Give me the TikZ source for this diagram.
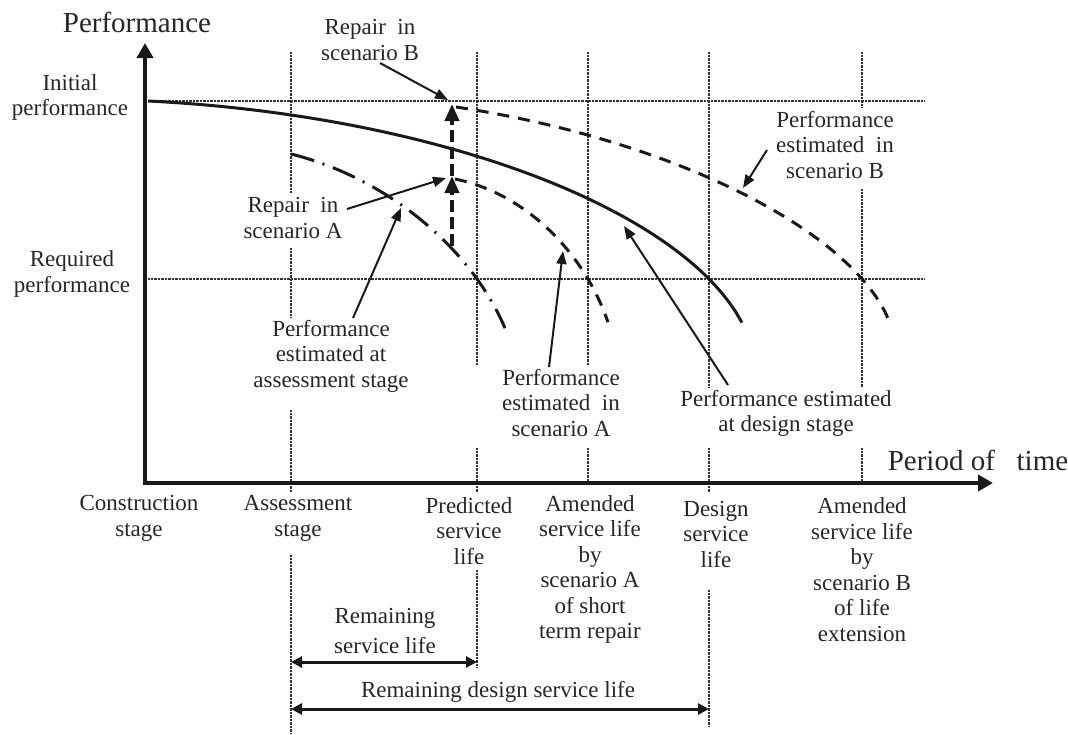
\documentclass[tikz,border=0pt]{standalone}
\usepackage{fontspec}
\setmainfont{Liberation Serif}
\usetikzlibrary{arrows.meta}
\begin{document}
\begin{tikzpicture}[x=1pt,y=-1pt,
  lbl/.style={align=center, inner sep=0pt, font=\fontsize{23}{25.5}\selectfont, text=black!85},
  big/.style={inner sep=0pt, font=\fontsize{29}{32}\selectfont, text=black!85},
  gridline/.style={line width=1.4pt, dash pattern=on 0.7pt off 0.7pt, black!80},
  axisline/.style={line width=4pt, black!90, -{Triangle[length=15pt,width=16pt]}},
  curve/.style={line width=3pt, black!90},
  ptr/.style={line width=2pt, black!90, -{Triangle[length=13pt,width=10pt]}},
  repair/.style={line width=4pt, black!90, dash pattern=on 12pt off 5pt, -{Triangle[length=17pt,width=14pt]}},
  span/.style={line width=3pt, black!90, {Triangle[length=11pt,width=11pt]}-{Triangle[length=11pt,width=11pt]}}
]
\useasboundingbox (0,0) rectangle (1068,734);

% grid lines
\draw[gridline] (148,101) -- (924,101);
\draw[gridline] (148,279) -- (924,279);
\draw[gridline] (291,52) -- (291,193) (291,248) -- (291,318) (291,410) -- (291,492) (291,555) -- (291,733);
\draw[gridline] (477,52) -- (477,365) (477,448) -- (477,492) (477,570) -- (477,668);
\draw[gridline] (588,52) -- (588,365) (588,448) -- (588,483);
\draw[gridline] (709,52) -- (709,387) (709,448) -- (709,492) (709,590) -- (709,727);
\draw[gridline] (862,52) -- (862,107) (862,189) -- (862,387) (862,448) -- (862,483);

% axes
\coordinate (O) at (145,483);
\coordinate (ytip) at (145,43);
\coordinate (xtip) at (993,483);
\draw[axisline] (145,485) -- (ytip);
\draw[axisline] (143,483) -- (xtip);

% performance estimated at design stage (solid)
\draw[curve] plot[domain=0:594, samples=90, variable=\t]
  ({148+\t}, {101 + 0.05*\t + 244*(1 - sqrt(1 - (\t/608)^2))});
% performance estimated at assessment stage (dash-dot)
\draw[curve, dash pattern=on 24pt off 9pt on 2pt off 9pt] plot[domain=0:214, samples=70, variable=\t]
  ({291+\t}, {154 + 0.25*\t + 190.5*(1 - sqrt(1 - (\t/230)^2))});
% scenario A (dashed)
\draw[curve, dash pattern=on 12pt off 9pt] plot[domain=0:153, samples=60, variable=\t]
  ({455+\t}, {179 + 0.2*\t + 180*(1 - sqrt(1 - (\t/165)^2))});
% scenario B (dashed)
\draw[curve, dash pattern=on 12pt off 9pt] plot[domain=0:434, samples=90, variable=\t]
  ({456+\t}, {107 + 0.15*\t + 180.6*(1 - sqrt(1 - (\t/440)^2))});

% repair arrows
\coordinate (rA0) at (452,246);
\coordinate (rA1) at (452,176);
\coordinate (rB1) at (452,104);
\draw[repair] (rA0) -- (rA1);
\draw[repair] (rA1) -- (rB1);

% labels
\node[big] (perf) at (137,22) {Performance};
\node[big] (time) at (978,460) {Period of\ \ \ time};
\node[lbl] (init) at (70,97.5) {Initial\\performance};
\node[lbl] (req) at (72,274) {Required\\performance};
\node[lbl] (repB) at (370,40) {Repair\ \ in\\scenario B};
\node[lbl] (repA) at (293,218) {Repair\ \ in\\scenario A};
\node[lbl] (estAs) at (331,356) {Performance\\estimated at\\assessment stage};
\node[lbl] (estA) at (561,403) {Performance\\estimated\ \ in\\scenario A};
\node[lbl] (estD) at (786,413.5) {Performance estimated\\at design stage};
\node[lbl] (estB) at (835,145) {Performance\\estimated\ \ in\\scenario B};

\node[lbl] (cons) at (139,518.5) {Construction\\stage};
\node[lbl] (asse) at (298,518.5) {Assessment\\stage};
\node[lbl] (pred) at (469,531) {Predicted\\service\\life};
\node[lbl] (amA) at (590,569.5) {Amended\\service life\\by\\scenario A\\of short\\term repair};
\node[lbl] (dsl) at (716,534) {Design\\service\\life};
\node[lbl] (amB) at (862,569.5) {Amended\\service life\\by\\scenario B\\of life\\extension};

\node[lbl, font=\fontsize{23}{30}\selectfont] (rsl) at (385,631) {Remaining\\service life};
\node[lbl] (rdsl) at (498,692) {Remaining design service life};

% pointer arrows
\coordinate (pB0) at (380,63);   \coordinate (pB1) at (448,100);
\coordinate (pA0) at (347,209);  \coordinate (pA1) at (446,178);
\coordinate (pS0) at (353,318);  \coordinate (pS1) at (401,208);
\coordinate (pEA0) at (549,367); \coordinate (pEA1) at (563,251);
\coordinate (pD0) at (728,385);  \coordinate (pD1) at (624,226);
\coordinate (pEB0) at (767,150); \coordinate (pEB1) at (743,188);
\draw[ptr] (pB0) -- (pB1);
\draw[ptr] (pA0) -- (pA1);
\draw[ptr] (pS0) -- (pS1);
\draw[ptr] (pEA0) -- (pEA1);
\draw[ptr] (pD0) -- (pD1);
\draw[ptr] (pEB0) -- (pEB1);

% span arrows
\coordinate (s1a) at (291,662); \coordinate (s1b) at (477,662);
\coordinate (s2a) at (291,709); \coordinate (s2b) at (709,709);
\draw[span] (s1a) -- (s1b);
\draw[span] (s2a) -- (s2b);
\end{tikzpicture}
\end{document}
